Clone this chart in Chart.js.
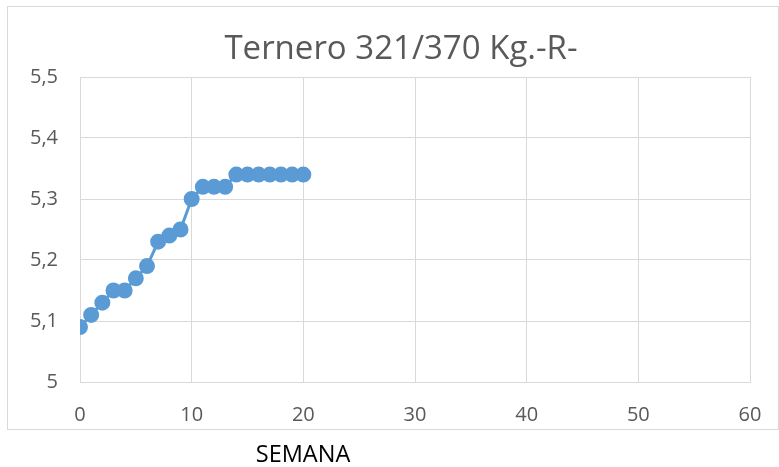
<!DOCTYPE html>
<html><head><meta charset="utf-8">
<script src="https://cdn.jsdelivr.net/npm/chart.js@4/dist/chart.umd.min.js"></script>
<style>html,body{margin:0;padding:0;background:#fff}#wrap{width:779px;height:467px;position:relative}</style>
</head><body><div id="wrap"><canvas id="c" width="779" height="467"></canvas></div>
<script>
const chartTitle = "Ternero 321/370 Kg.-R-";
const xTitle = "SEMANA";
const semanas = [0,1,2,3,4,5,6,7,8,9,10,11,12,13,14,15,16,17,18,19,20];
const pesos = [5.09,5.11,5.13,5.15,5.15,5.17,5.19,5.23,5.24,5.25,5.30,5.32,5.32,5.32,5.34,5.34,5.34,5.34,5.34,5.34,5.34];
const yTicks = [5,5.1,5.2,5.3,5.4,5.5];
const xTicks = [0,10,20,30,40,50,60];

const FONT = "'Open Sans', 'Noto Sans', sans-serif";
const decor = {
  id:'decor',
  beforeDraw(chart){
    const ctx = chart.ctx;
    ctx.save();
    ctx.fillStyle='#fff';ctx.fillRect(0,0,chart.width,chart.height);
    ctx.strokeStyle='#d9d9d9';ctx.lineWidth=1;
    ctx.strokeRect(7.5,6.5,771,423);
    ctx.restore();
  },
  afterDraw(chart){
    const ctx = chart.ctx;
    ctx.save();
    ctx.fillStyle='#595959';
    ctx.textAlign='center';ctx.textBaseline='middle';
    ctx.font = "33px " + FONT;
    ctx.fillText(chartTitle, 401, 50);
    ctx.fillStyle='#000';
    ctx.font = "23.5px " + FONT;
    ctx.fillText(xTitle, 303, 455);
    ctx.restore();
  }
};

new Chart(document.getElementById('c'), {
  type:'line',
  data:{datasets:[{
    data: semanas.map((s,i)=>({x:s,y:pesos[i]})),
    borderColor:'#5b9bd5', backgroundColor:'#5b9bd5',
    borderWidth:3, pointRadius:6.5, pointHoverRadius:6.5, tension:0
  }]},
  options:{
    responsive:false, animation:false, devicePixelRatio:1,
    layout:{padding:{left:0,right:29,top:77,bottom:35}},
    plugins:{legend:{display:false},title:{display:false},tooltip:{enabled:false}},
    scales:{
      x:{type:'linear',min:0,max:60,
        afterBuildTicks(s){s.ticks = xTicks.map(v=>({value:v}));},
        afterFit(s){s.height=50;s.paddingRight=0;s.paddingLeft=0;},
        grid:{color:'#d9d9d9',lineWidth:1,drawTicks:false},
        border:{color:'#d9d9d9'},
        ticks:{padding:21,color:'#595959',font:{family:FONT,size:20},maxRotation:0}
      },
      y:{min:5,max:5.5,
        afterBuildTicks(s){s.ticks = yTicks.map(v=>({value:v}));},
        afterFit(s){s.width=80;s.paddingTop=0;s.paddingBottom=0;},
        grid:{color:'#d9d9d9',lineWidth:1,drawTicks:false},
        border:{color:'#d9d9d9'},
        ticks:{padding:22,color:'#595959',font:{family:FONT,size:20},
          callback:v=>Number.isInteger(v)?String(v):v.toFixed(1).replace('.',',')}
      }
    }
  },
  plugins:[decor]
});
</script></body></html>
